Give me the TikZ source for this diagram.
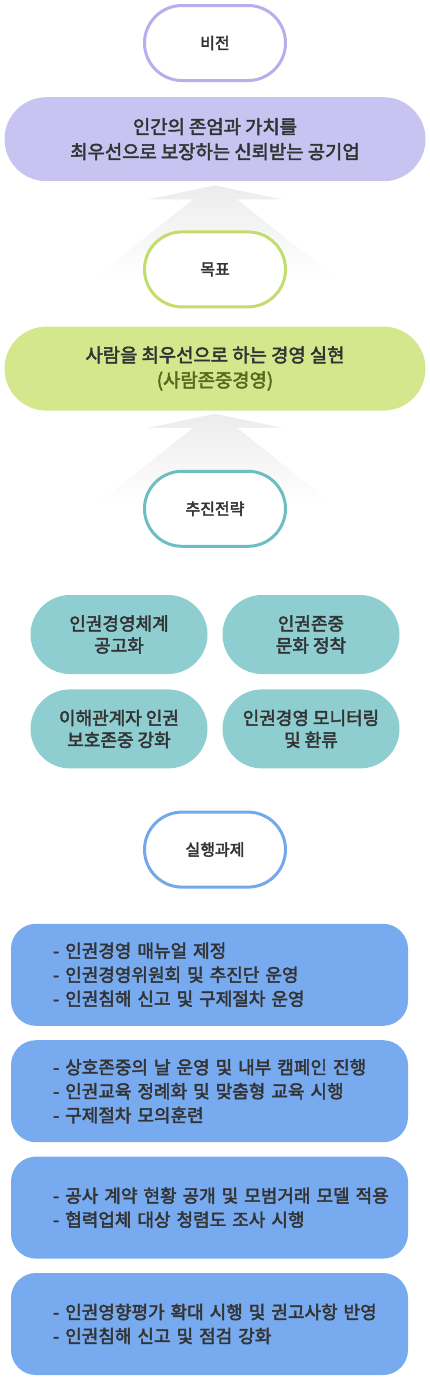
\documentclass[tikz,border=0pt]{standalone}
\usepackage{fontspec}
\setmainfont{Noto Sans CJK KR}[FakeBold=2.5]
\usetikzlibrary{positioning}
\definecolor{inktext}{HTML}{333333}
\definecolor{visionline}{HTML}{B3B0EC}
\definecolor{visionfill}{HTML}{C7C4F1}
\definecolor{goalline}{HTML}{C3DD6C}
\definecolor{goalfill}{HTML}{D4E78D}
\definecolor{goaldark}{HTML}{56691E}
\definecolor{stratline}{HTML}{6BBEC2}
\definecolor{stratfill}{HTML}{8ECED1}
\definecolor{actline}{HTML}{74A8EC}
\definecolor{actfill}{HTML}{77AAEF}

\begin{document}
\begin{tikzpicture}[x=1pt,y=1pt,
                    pill/.style={draw,line width=3pt,fill=white,rounded corners=37.5pt,
                                 minimum width=141pt,minimum height=75pt,text=inktext,
                                 font=\fontsize{16}{18}\selectfont},
                    wide box/.style={rounded corners=42pt,minimum width=421pt,minimum height=84pt,
                                 align=center,text=inktext,font=\fontsize{18.8}{25}\selectfont},
                    strat box/.style={fill=stratfill,rounded corners=39.5pt,minimum width=177pt,
                                 minimum height=79pt,align=center,text=inktext,
                                 font=\fontsize{18}{22}\selectfont},
                    task box/.style={fill=actfill,rounded corners=25pt,minimum height=102pt,
                                 text width=385pt,inner xsep=6pt,align=left,text=inktext,
                                 execute at begin node={\leftskip=36pt},
                                 font=\fontsize{18}{24}\selectfont},
                    lift arrow/.pic={\shade[top color=gray!15,bottom color=white]
                                 (0,0) -- (67,-14) -- (22,-14) -- (120,-92) -- (-120,-92)
                                 -- (-22,-14) -- (-67,-14) -- cycle;}]
  \useasboundingbox (0,0) rectangle (430,-1398);

  \node[pill,draw=visionline] (vision) at (215,-43) {비전};
  \node[wide box,fill=visionfill] (visionbox) [below=15pt of vision]
    {인간의 존엄과 가치를\\최우선으로 보장하는 신뢰받는 공기업};

  \path (visionbox.south) ++(0,-4) pic {lift arrow};
  \node[pill,draw=goalline] (goal) [below=49pt of visionbox] {목표};
  \node[wide box,fill=goalfill] (goalbox) [below=18pt of goal]
    {사람을 최우선으로 하는 경영 실현\\\textcolor{goaldark}{(사람존중경영)}};

  \path (goalbox.south) ++(0,-3) pic {lift arrow};
  \node[pill,draw=stratline] (strategy) [below=59pt of goalbox] {추진전략};
  \node[strat box] (s1) [below=47pt of strategy,xshift=-96pt] {인권경영체계\\공고화};
  \node[strat box] (s2) [below=47pt of strategy,xshift=96pt] {인권존중\\문화 정착};
  \node[strat box] (s3) [below=15pt of s1] {이해관계자 인권\\보호존중 강화};
  \node[strat box] (s4) [below=15pt of s2] {인권경영 모니터링\\및 환류};

  \node[pill,draw=actline] (action) [below=42pt of s3.south -| strategy] {실행과제};
  \node[task box] (t1) [below=35pt of action,xshift=-5.5pt]
    {- 인권경영 매뉴얼 제정\\- 인권경영위원회 및 추진단 운영\\- 인권침해 신고 및 구제절차 운영};
  \node[task box] (t2) [below=14pt of t1]
    {- 상호존중의 날 운영 및 내부 캠페인 진행\\- 인권교육 정례화 및 맞춤형 교육 시행\\- 구제절차 모의훈련};
  \node[task box] (t3) [below=14pt of t2]
    {- 공사 계약 현황 공개 및 모범거래 모델 적용\\- 협력업체 대상 청렴도 조사 시행};
  \node[task box] (t4) [below=14pt of t3]
    {- 인권영향평가 확대 시행 및 권고사항 반영\\- 인권침해 신고 및 점검 강화};
\end{tikzpicture}
\end{document}
